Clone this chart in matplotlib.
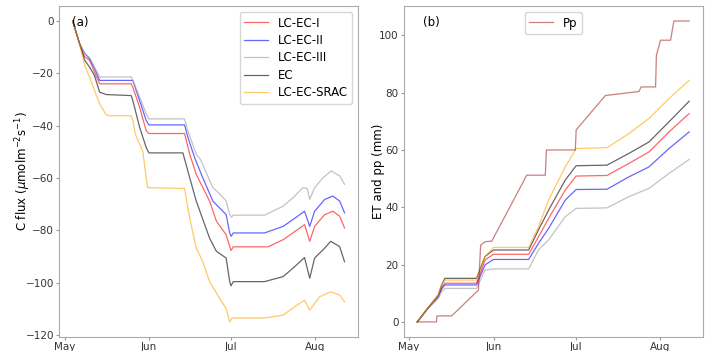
import numpy as np
import pandas as pd
import matplotlib
matplotlib.use("Agg")
import matplotlib.pyplot as plt
import matplotlib.dates as mdates

start = pd.Timestamp("2019-05-01")

# ---- (a) cumulative C flux, (day since May 1, value) ----
gray_a_d = [3, 5.5, 7.4, 9.2, 11, 12.9, 24.5, 25.1, 27.6, 30, 31, 44.1, 45.3, 48.4, 50, 54.5, 57, 59.4, 60.7, 61.4, 62,
            73.5, 80.3, 83.9, 87.6, 89.2, 90.1, 91.9, 95, 98, 101.1, 102.9]
gray_a_v = [0, -8.6, -12.4, -14, -17.6, -21.4, -21.4, -22.7, -29, -35.5, -37.4, -37.4, -41.9, -50.9, -53, -63.7, -66,
            -68.8, -74, -75, -74.2, -74.2, -70.8, -67.6, -63.7, -64, -68.2, -63.7, -59.9, -57.3, -59.2, -62.4]

blue_a_d = [3, 5.5, 7.4, 9.2, 11, 12.9, 24.5, 25.1, 27.6, 30, 31, 44.1, 45.5, 47.8, 50.8, 54.5, 59.4, 60.7, 61.2, 62,
            73.5, 80.3, 83.9, 88.2, 90.1, 91.9, 95.6, 98.6, 101.1, 102.9]
blue_a_v = [0, -8.6, -12.4, -14.4, -18, -22.7, -22.7, -22.7, -30.4, -38, -39.7, -39.7, -45, -52.2, -59.9, -68.8, -74,
            -81, -82.3, -81, -81, -78.5, -75.9, -72.7, -78.5, -72.7, -68.2, -66.9, -68.8, -73.3]

red_a_d = [3, 5.5, 7.4, 9.2, 11, 12.9, 24.5, 25.1, 27.6, 30, 31, 44.1, 46, 48.4, 53.3, 55.8, 59.4, 60.7, 61.2, 62,
           74.8, 80.3, 83.9, 88.2, 90.1, 91.9, 95.6, 98.6, 101.1, 102.9]
red_a_v = [0, -8.6, -13.7, -15, -19.5, -24, -24, -25.3, -33, -41.9, -43, -43, -50.9, -58.6, -68.8, -76.5, -81.7,
           -86.2, -87.7, -86.3, -86.3, -83.6, -81, -77.8, -84.2, -78.5, -74, -72.7, -74.6, -79.1]

black_a_d = [3, 5.5, 7.4, 9.2, 11, 12.9, 15.3, 24.5, 25.1, 27.6, 30, 31, 43.5, 46, 48.4, 53.3, 55.8, 59.4, 60.7, 61.2,
             62, 73.5, 80.3, 83.9, 88.2, 90.1, 91.9, 95.6, 97.8, 101.1, 102.9]
black_a_v = [0, -8.6, -15, -17.6, -20.8, -27.2, -28.1, -28.5, -30.4, -40.6, -48.3, -50.4, -50.4, -59.9, -68.8, -83,
             -88, -90.6, -99.6, -101.2, -99.6, -99.6, -97.7, -94.5, -90.4, -98.3, -90.6, -86.8, -84.2, -86.2, -92]

orange_a_d = [3, 5.5, 7.4, 9.2, 11, 12.9, 15.3, 16.5, 24.5, 25.1, 26, 28.8, 30, 30.6, 44.1, 46, 48.4, 50.8, 53.3, 57,
              59.4, 60.7, 61.5, 73.5, 80.3, 84.6, 88.2, 90.1, 93.75, 97.8, 101.1, 102.9]
orange_a_v = [0, -8.6, -16.9, -21.4, -26.5, -31.7, -35.8, -36.2, -36.2, -38, -43.2, -50, -59.9, -63.7, -64, -75.3,
              -86.8, -91.9, -99.6, -106, -109.9, -115, -113.5, -113.5, -112.4, -109.2, -106.7, -110.5, -105.4,
              -103.5, -104.7, -107.3]

# ---- (b) cumulative ET and precipitation ----
et_d = [3, 7, 10.7, 11.9, 13.1, 24.7, 27.8, 30.9, 43.8, 47.4, 51.1, 57.2, 61.2, 72.5, 80.5, 87.9, 95.2, 102.6]
orange_b = [0, 5, 9.4, 12.9, 14.6, 14.6, 22.8, 26, 26, 33.2, 42.5, 54.1, 60.5, 60.8, 65.7, 71, 77.9, 84.3]
black_b = [0, 5, 9.4, 12.9, 15.2, 15.2, 22.8, 25.1, 25.1, 32.1, 39, 49.5, 54.5, 54.7, 58.8, 62.8, 69.8, 77]
red_b = [0, 5, 9, 12, 13.5, 13.5, 21.6, 23.6, 23.6, 29.7, 36.1, 46, 50.9, 51.1, 55.3, 59.3, 66.3, 72.7]
blue_b = [0, 4.8, 8.5, 11.5, 12.9, 12.9, 19.9, 21.8, 21.8, 27.4, 32.6, 42.5, 46.2, 46.3, 50.6, 54.1, 60.5, 66.3]
gray_b = [0, 4.8, 8.3, 10.5, 11.7, 11.7, 18.1, 18.5, 18.5, 25.1, 28.6, 36.7, 39.6, 39.8, 43.7, 46.6, 51.8, 56.7]

pp_d = [3, 10, 10.2, 15.6, 25.4, 26.2, 28, 30.3, 43.1, 49.9, 50.3, 60.9, 61.2, 71.9, 84.2, 85, 90.3, 90.6, 92.1,
        95.8, 97, 102.6]
pp_v = [0, 0, 2.1, 2.1, 11.1, 26.8, 28, 28.2, 51.2, 51.2, 60, 60, 67, 79, 80.4, 82, 82, 93, 98.3, 98.3, 105, 105]


def to_dates(days):
    return start + pd.to_timedelta(np.array(days), unit="D")


fig = plt.figure(figsize=(7.12, 3.51), dpi=100)
ax1 = fig.add_axes([0.083, 0.040, 0.420, 0.943])
ax2 = fig.add_axes([0.567, 0.040, 0.420, 0.943])

lw = 0.9
ax1.plot(to_dates(red_a_d), red_a_v, color="red", alpha=0.6, lw=lw, label="LC-EC-I")
ax1.plot(to_dates(blue_a_d), blue_a_v, color="blue", alpha=0.6, lw=lw, label="LC-EC-II")
ax1.plot(to_dates(gray_a_d), gray_a_v, color="darkgray", alpha=0.7, lw=lw, label="LC-EC-III")
ax1.plot(to_dates(black_a_d), black_a_v, color="black", alpha=0.6, lw=lw, label="EC")
ax1.plot(to_dates(orange_a_d), orange_a_v, color="orange", alpha=0.6, lw=lw, label="LC-EC-SRAC")
ax1.set_ylabel(r"C flux ($\mu$molm$^{-2}$s$^{-1}$)", fontsize=8.5)
ax1.yaxis.set_label_coords(-0.087, 0.5)
ax1.text(0.043, 0.95, "(a)", transform=ax1.transAxes, fontsize=8.5, va="center")
ax1.legend(loc="upper right", fontsize=8.5, labelspacing=0.37, frameon=True)

ax2.plot(to_dates(et_d), red_b, color="red", alpha=0.6, lw=lw)
ax2.plot(to_dates(et_d), blue_b, color="blue", alpha=0.6, lw=lw)
ax2.plot(to_dates(et_d), gray_b, color="darkgray", alpha=0.7, lw=lw)
ax2.plot(to_dates(et_d), black_b, color="black", alpha=0.6, lw=lw)
ax2.plot(to_dates(et_d), orange_b, color="orange", alpha=0.6, lw=lw)
ax2.plot(to_dates(pp_d), pp_v, color="brown", alpha=0.6, lw=lw, label="Pp")
ax2.set_ylabel("ET and pp (mm)", fontsize=8.5)
ax2.yaxis.set_label_coords(-0.064, 0.5)
ax2.text(0.064, 0.95, "(b)", transform=ax2.transAxes, fontsize=8.5, va="center")
ax2.legend(loc="upper center", fontsize=8.5, frameon=True)

for ax in (ax1, ax2):
    ax.xaxis.set_major_locator(mdates.MonthLocator())
    ax.xaxis.set_major_formatter(mdates.DateFormatter("%b"))
    ax.tick_params(labelsize=7.5, colors="#333333", length=2, pad=1.5)
    ax.tick_params(axis="both", color="#999999")
    for s in ax.spines.values():
        s.set_color("#aaaaaa")

fig.savefig("out.png", dpi=100)
